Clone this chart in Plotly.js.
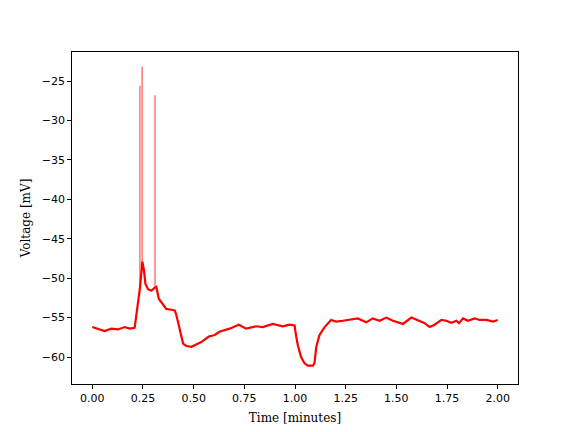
<!DOCTYPE html>
<html>
<head>
<meta charset="utf-8">
<script src="https://cdn.plot.ly/plotly-3.0.1.min.js"></script>
<style>html,body{margin:0;padding:0;background:#fff;}#chart{width:576px;height:432px;}</style>
</head>
<body>
<div id="chart"></div>
<script>
// Time in minutes, membrane voltage in mV (traced mean of the recording)
const timeMin = [0.000,0.028,0.061,0.094,0.127,0.160,0.184,0.209,0.217,0.226,0.234,0.242,0.247,0.255,0.262,0.275,0.291,0.308,0.316,0.328,0.349,0.365,0.390,0.407,0.415,0.431,0.448,0.464,0.489,0.505,0.538,0.575,0.604,0.627,0.677,0.723,0.759,0.808,0.841,0.891,0.940,0.973,0.998,1.006,1.014,1.030,1.047,1.063,1.088,1.096,1.105,1.121,1.146,1.178,1.203,1.236,1.269,1.310,1.351,1.384,1.417,1.450,1.483,1.532,1.574,1.615,1.640,1.664,1.689,1.722,1.746,1.771,1.796,1.809,1.829,1.853,1.886,1.911,1.944,1.977,2.000];
const voltage = [-56.2,-56.4,-56.7,-56.4,-56.5,-56.2,-56.4,-56.3,-54.9,-53.2,-51.5,-49.4,-47.9,-49.0,-50.7,-51.4,-51.6,-51.2,-51.1,-52.6,-53.4,-53.9,-54.0,-54.1,-54.7,-56.6,-58.3,-58.6,-58.7,-58.5,-58.1,-57.4,-57.2,-56.8,-56.4,-55.9,-56.4,-56.1,-56.2,-55.8,-56.1,-55.9,-56.0,-57.4,-58.5,-60.0,-60.8,-61.1,-61.1,-60.8,-58.7,-57.2,-56.2,-55.3,-55.5,-55.4,-55.3,-55.1,-55.6,-55.1,-55.4,-55.0,-55.4,-55.8,-55.0,-55.4,-55.7,-56.2,-55.9,-55.3,-55.4,-55.65,-55.4,-55.7,-55.1,-55.4,-55.1,-55.3,-55.3,-55.5,-55.3];
// Action-potential spikes
const spikeTime = [0.235,0.246,0.3096];
const spikeBase = [-51.3,-48.0,-51.2];
const spikePeak = [-25.6,-23.2,-26.8];

const sx = [], sy = [];
for (let i = 0; i < spikeTime.length; i++) {
  sx.push(spikeTime[i], spikeTime[i], null);
  sy.push(spikeBase[i], spikePeak[i], null);
}

const tickFont = {family: 'DejaVu Sans, sans-serif', size: 11, color: '#000'};
const titleFont = {family: 'DejaVu Serif, serif', size: 12, color: '#000'};

const data = [
  {x: sx, y: sy, mode: 'lines', line: {color: 'rgba(255,0,0,0.5)', width: 1.6}, hoverinfo: 'skip', showlegend: false, connectgaps: false},
  {x: timeMin, y: voltage, mode: 'lines', line: {color: '#ff0000', width: 2.2}, showlegend: false}
];

const layout = {
  width: 576, height: 432,
  margin: {l: 72, r: 58, t: 52, b: 48, pad: 0},
  paper_bgcolor: '#fff', plot_bgcolor: '#fff',
  xaxis: {
    range: [-0.1, 2.1], dtick: 0.25, tick0: 0, tickformat: '.2f',
    showgrid: false, zeroline: false,
    showline: true, mirror: true, linecolor: '#000', linewidth: 1,
    ticks: 'outside', ticklen: 3.9, tickcolor: '#000', tickwidth: 1,
    tickfont: tickFont,
    title: {text: 'Time [minutes]', font: titleFont, standoff: 9}
  },
  yaxis: {
    range: [-63.42, -21.32], dtick: 5, tick0: 0,
    showgrid: false, zeroline: false,
    showline: true, mirror: true, linecolor: '#000', linewidth: 1,
    ticks: 'outside', ticklen: 3.9, tickcolor: '#000', tickwidth: 1,
    tickfont: tickFont,
    title: {text: 'Voltage [mV]', font: titleFont, standoff: 8}
  }
};

Plotly.newPlot('chart', data, layout, {displayModeBar: false, staticPlot: true});
</script>
</body>
</html>
